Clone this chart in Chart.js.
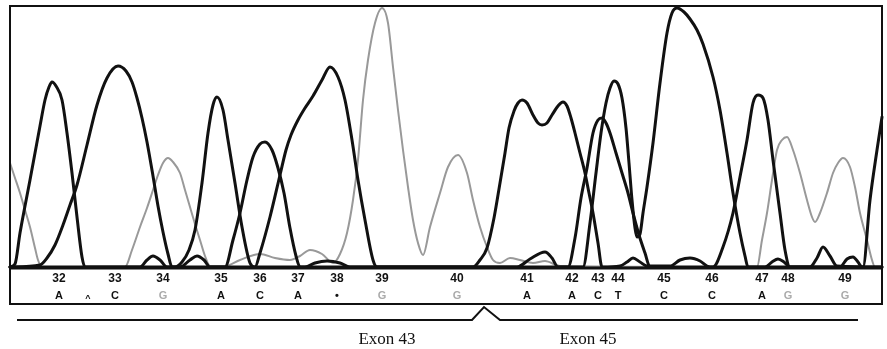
<!DOCTYPE html>
<html>
<head>
<meta charset="utf-8">
<script src="https://cdn.jsdelivr.net/npm/chart.js@4"></script>
<style>
  html, body { margin: 0; padding: 0; background: #fff; }
  canvas { display: block; }
</style>
</head>
<body>
<canvas id="trace" width="887" height="349"></canvas>
<script>
// base calls under the trace
const baseNumbers = [32, 33, 34, 35, 36, 37, 38, 39, 40, 41, 42, 43, 44, 45, 46, 47, 48, 49];
const baseCalls = ['A', 'C', 'G', 'A', 'C', 'A', '\u2022', 'G', 'G', 'A', 'A', 'C', 'T', 'C', 'C', 'A', 'G', 'G'];
const baseScans = [59, 115, 163, 221, 260, 298, 337, 382, 457, 527, 572, 598, 618, 664, 712, 762, 788, 845];

const exonNames = ['Exon 43', 'Exon 45'];
const exonJunction = 484;

// traces as [scan, signal]
const traceA = [[10,1],[15,4],[20,35],[25,62],[30,88],[35,115],[40,142],[45,168],[49,181],[52,186],[56,182],[62,168],[67,135],[72,95],[77,51],[82,11],[85,1],
  [175,1],[182,6],[189,18],[195,38],[202,85],[208,135],[213,163],[217,171],[223,158],[228,128],[235,85],[242,41],[250,5],[255,1],
  [260,15],[270,51],[280,93],[286,118],[291,133],[298,148],[305,160],[313,172],[322,188],[330,201],[338,191],[345,168],[352,128],[358,88],[365,48],[373,8],[377,1],
  [473,1],[480,8],[487,20],[494,50],[500,85],[505,115],[509,140],[514,157],[518,165],[522,168],[527,165],[533,153],[538,145],[542,143],[547,145],[552,153],[558,162],[563,166],[567,162],[571,150],[575,135],[580,115],[585,95],[589,75],[593,55],[598,25],[602,1],
  [620,2],[627,6],[633,10],[640,6],[647,2],[670,2],[680,8],[690,10],[700,7],[707,2],
  [713,1],[723,21],[733,55],[740,91],[747,128],[753,165],[758,173],[763,170],[768,148],[773,108],[780,55],[785,18],[790,1],
  [810,1],[817,10],[823,21],[830,12],[837,2],[882,1]];

const traceC = [[10,1],[40,3],[47,10],[55,23],[63,43],[70,63],[77,83],[87,123],[97,163],[107,190],[118,202],[126,197],[132,186],[137,170],[142,150],[147,126],[153,92],[158,62],[163,36],[168,14],[172,1],
  [225,1],[233,28],[240,55],[247,88],[253,111],[260,124],[265,126],[272,118],[278,100],[284,75],[290,40],[296,12],[300,1],
  [583,1],[590,45],[596,95],[601,135],[606,165],[610,180],[614,187],[618,184],[622,170],[626,140],[629,105],[632,68],[635,40],[637,31],[640,34],[643,55],[647,81],[653,125],[660,185],[667,235],[672,255],[677,260],[684,256],[690,249],[697,238],[703,224],[713,191],[720,158],[727,115],[733,75],[740,35],[745,12],[748,1],
  [863,1],[870,68],[877,118],[882,151]];

const traceT = [[10,1],[140,1],[147,8],[153,12],[160,8],[167,1],[180,1],[190,8],[197,12],[204,8],[210,1],
  [305,1],[315,5],[327,7],[340,5],[350,1],[517,1],[530,9],[545,16],[552,10],[558,1],
  [568,1],[575,30],[581,70],[587,100],[593,135],[598,148],[602,150],[606,145],[610,135],[616,115],[622,95],[628,75],[633,55],[639,33],[645,15],[650,1],
  [765,1],[772,6],[778,9],[784,6],[790,1],[840,1],[847,9],[853,11],[858,6],[862,1],[882,1]];

const traceG = [[10,105],[15,90],[20,75],[25,58],[30,41],[35,20],[38,8],[42,1],
  [125,1],[132,18],[140,41],[147,60],[153,78],[158,93],[163,105],[168,110],[173,106],[180,95],[185,78],[190,61],[195,44],[200,28],[205,12],[210,2],
  [225,2],[240,8],[260,14],[275,10],[290,8],[300,12],[310,18],[322,14],[333,5],
  [340,14],[347,35],[353,68],[358,108],[363,168],[368,208],[375,245],[382,260],[388,245],[393,201],[398,158],[403,118],[408,81],[413,48],[418,25],[423,13],
  [430,41],[440,75],[448,101],[458,113],[467,95],[473,68],[480,41],[487,21],[493,8],[500,5],[510,10],[520,8],[533,5],[545,7],[560,2],
  [757,1],[762,28],[767,55],[772,88],[777,118],[782,128],[787,131],[793,118],[800,95],[807,68],[812,51],[815,46],[820,55],[827,75],[833,95],[838,105],[843,110],[850,101],[855,81],[860,55],[867,28],[872,8],[875,1],[882,1]];

const toPoints = arr => arr.map(p => ({x: p[0], y: p[1]}));

function traceSet(data, color, width, order) {
    return {
        data: toPoints(data),
        borderColor: color,
        borderWidth: width,
        pointRadius: 0,
        cubicInterpolationMode: 'monotone',
        borderJoinStyle: 'round',
        borderCapStyle: 'round',
        fill: false,
        clip: 4,
        order: order
    };
}

/*
 * frame, base call strip and exon bracket
 */
const annotations = {
    id: 'annotations',
    afterDraw(chart) {
        const {ctx, chartArea: {top, left, right, bottom}, scales: {x}} = chart;
        ctx.save();
        ctx.strokeStyle = '#111';
        ctx.lineWidth = 2;
        ctx.strokeRect(left, top, right - left, 304 - top);

        ctx.lineWidth = 3;
        ctx.beginPath();
        ctx.moveTo(left, bottom);
        ctx.lineTo(right, bottom);
        ctx.stroke();

        ctx.textAlign = 'center';
        ctx.textBaseline = 'middle';
        for (let i = 0; i < baseNumbers.length; i++) {
            let px = x.getPixelForValue(baseScans[i]);
            ctx.fillStyle = '#111';
            ctx.font = 'bold 12px "Liberation Sans"';
            ctx.fillText(String(baseNumbers[i]), px, 279);
            ctx.font = 'bold 11px "Liberation Sans"';
            ctx.fillStyle = baseCalls[i] === 'G' ? '#aaa' : '#111';
            ctx.fillText(baseCalls[i], px, 296);
        }
        ctx.fillStyle = '#111';
        ctx.font = 'bold 9px "Liberation Sans"';
        ctx.fillText('^', x.getPixelForValue(88), 299);

        // exon bracket
        let j = x.getPixelForValue(exonJunction);
        ctx.lineWidth = 2;
        ctx.beginPath();
        ctx.moveTo(17, 320);
        ctx.lineTo(j - 12, 320);
        ctx.lineTo(j, 307);
        ctx.lineTo(j + 16, 320);
        ctx.lineTo(858, 320);
        ctx.stroke();

        ctx.font = '17px "Liberation Serif"';
        ctx.textBaseline = 'alphabetic';
        ctx.fillText(exonNames[0], x.getPixelForValue(387), 344);
        ctx.fillText(exonNames[1], x.getPixelForValue(588), 344);
        ctx.restore();
    }
};

new Chart(document.getElementById('trace').getContext('2d'), {
    type: 'line',
    plugins: [annotations],
    data: {
        datasets: [
            traceSet(traceA, '#111', 3, 1),
            traceSet(traceC, '#111', 3, 1),
            traceSet(traceT, '#111', 3, 1),
            traceSet(traceG, '#999', 2, 2)
        ]
    },
    options: {
        responsive: false,
        animation: false,
        layout: {
            padding: {left: 10, right: 5, top: 6, bottom: 81}
        },
        scales: {
            x: {type: 'linear', min: 10, max: 882, display: false},
            y: {min: 0, max: 262, display: false}
        },
        plugins: {
            legend: {display: false},
            tooltip: {enabled: false}
        }
    }
});
</script>
</body>
</html>
